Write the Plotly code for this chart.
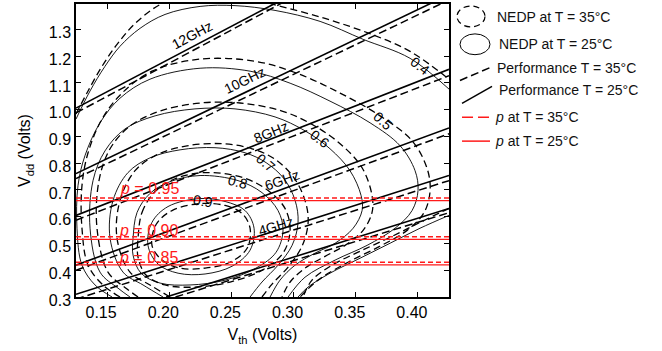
import plotly.graph_objects as go

FONT = "Liberation Sans, Arial, Helvetica, sans-serif"
RED = "#ff1a1a"

# ---------------- axes ----------------
vth_range = [0.125, 0.425]
vdd_range = [0.30, 1.395]
vth_ticks = [0.15, 0.20, 0.25, 0.30, 0.35, 0.40]
vdd_ticks = [0.3, 0.4, 0.5, 0.6, 0.7, 0.8, 0.9, 1.0, 1.1, 1.2, 1.3]

# ---------------- performance lines (iso-frequency) ----------------
perf_names = ["12GHz", "10GHz", "8GHz", "6GHz", "4GHz", "2GHz"]
perf25_vth = [[0.125, 0.285], [0.125, 0.425], [0.125, 0.425], [0.125, 0.425], [0.125, 0.425], [0.1975, 0.425]]
perf25_vdd = [[1.006, 1.397], [0.761, 1.430], [0.605, 1.151], [0.419, 0.932], [0.310, 0.754], [0.300, 0.631]]
perf35_vth = [[0.125, 0.290], [0.125, 0.425], [0.125, 0.425], [0.125, 0.425], [0.125, 0.425], [0.205, 0.425]]
perf35_vdd = [[0.988, 1.397], [0.743, 1.410], [0.587, 1.127], [0.400, 0.910], [0.292, 0.735], [0.300, 0.615]]
perf_label_vth = [0.2183, 0.2610, 0.2819, 0.2907, 0.2859]
perf_label_vdd = [1.281, 1.110, 0.917, 0.739, 0.564]
perf_label_angle = [-28, -26, -22, -20, -17]

# ---------------- NEDP contours, T = 25 C (solid) ----------------
n25_04_vth = [.125, .1363, .1483, .1604, .1765, .1966, .2248, .2529, .2851, .3213, .3559, .3937, .425,
              None, .425, .4017, .3776, .3535, .3293, .3116, .3036]
n25_04_vdd = [.965, 1.07, 1.162, 1.237, 1.304, 1.356, 1.386, 1.389, 1.371, 1.330, 1.263, 1.192, 1.077,
              None, .605, .557, .501, .445, .389, .337, .30]
n25_05_vth = [.154, .1403, .1298, .1258, .1266, .1322, .1443, .1604, .1845, .2248, .265, .2972, .3293, .3615,
              .3857, .3977, .4001, .3953, .3816, .3591, .3334, .3092, .2956]
n25_05_vdd = [.30, .345, .419, .557, .716, .828, .951, 1.043, 1.114, 1.155, 1.144, 1.099, 1.032, .951,
              .865, .772, .698, .623, .557, .493, .438, .374, .30]
n25_06_vth = [.1684, .1588, .1443, .1363, .1387, .1483, .1644, .1886, .2207, .2529, .2851, .3092, .3293, .3454,
              .3543, .3551, .3479, .3334, .3173, .3012, .2891, .2811]
n25_06_vdd = [.30, .333, .393, .557, .735, .846, .928, .977, 1.003, 1.003, .973, .921, .854, .772,
              .679, .623, .557, .501, .464, .419, .363, .30]
n25_07_vth = [.195, .1789, .1628, .1524, .1548, .1668, .1845, .2087, .2368, .261, .2779, .2923, .3012, .3036,
              .2988, .2875, .2746, .265]
n25_07_vdd = [.30, .345, .393, .519, .661, .765, .820, .850, .858, .839, .802, .742, .661, .579,
              .493, .419, .356, .30]
n25_08_vth = [.1709, .1741, .1845, .2006, .2248, .2553, .2746, .2875, .2915, .2859, .2698, .2449, .2167, .1926,
              .1773, .1709, .1709]
n25_08_vdd = [.519, .616, .687, .731, .754, .735, .690, .623, .549, .467, .408, .363, .345, .352,
              .389, .456, .519]
n25_09_vth = [.2248, .2449, .261, .2682, .265, .2505, .2288, .2071, .191, .1829, .1861, .199, .2248]
n25_09_vdd = [.668, .657, .623, .557, .475, .415, .386, .389, .423, .493, .579, .638, .668]

# ---------------- NEDP contours, T = 35 C (dashed) ----------------
n35_04_vth = [.125, .1347, .1459, .158, .1725, .1926, .2167, .2489, .2811, .3253, .3631, .3937, .425,
              None, .425, .4017, .3776, .3535, .3309, .3148, .3076]
n35_04_vdd = [.984, 1.07, 1.162, 1.244, 1.322, 1.393, 1.434, 1.441, 1.397, 1.341, 1.281, 1.218, 1.114,
              None, .631, .579, .523, .471, .419, .363, .30]
n35_05_vth = [.1604, .1467, .1347, .1298, .1298, .1347, .1459, .162, .1861, .2248, .269, .3028, .3374, .3696,
              .3953, .4074, .4098, .405, .3913, .3696, .3438, .3197, .3052]
n35_05_vdd = [.30, .345, .419, .557, .716, .839, .965, 1.062, 1.144, 1.189, 1.181, 1.136, 1.062, .977,
              .884, .780, .698, .616, .549, .490, .430, .363, .30]
n35_06_vth = [.1749, .1652, .1507, .1419, .1435, .1524, .1684, .1926, .2248, .2569, .2907, .3157, .3374, .3551,
              .3631, .3631, .3559, .3414, .3253, .3092, .2972, .2907]
n35_06_vdd = [.30, .333, .393, .557, .735, .854, .939, .995, 1.025, 1.025, .995, .943, .873, .783,
              .679, .616, .549, .493, .452, .408, .356, .30]
n35_07_vth = [.2006, .1845, .1684, .158, .1604, .1725, .1902, .2143, .2424, .2666, .2843, .2996, .3092, .3117,
              .3068, .2956, .2827, .2746]
n35_07_vdd = [.30, .345, .393, .519, .661, .772, .832, .865, .873, .854, .817, .750, .661, .579,
              .490, .412, .348, .30]
n35_08_vth = [.1749, .1781, .1886, .2046, .2288, .2593, .2795, .2931, .2972, .2915, .2746, .2489, .2207, .1966,
              .1813, .1749, .1749]
n35_08_vdd = [.519, .616, .694, .742, .765, .746, .698, .631, .549, .464, .400, .356, .337, .345,
              .382, .449, .519]
n35_09_vth = [.2248, .2449, .2586, .265, .2626, .2489, .2288, .2087, .1942, .1861, .1894, .2022, .2248]
n35_09_vdd = [.649, .642, .612, .557, .482, .430, .408, .408, .438, .493, .571, .623, .649]

level_text = ["0.4", "0.5", "0.6", "0.7", "0.8", "0.9"]
level_label_vth = [0.4017, 0.3720, 0.3213, 0.2779, 0.2553, 0.2272]
level_label_vdd = [1.162, 0.958, 0.891, 0.802, 0.731, 0.657]
level_label_angle = [38, 42, 38, 40, 15, 8]

# ---------------- yield (p) lines ----------------
p_text = ["0.95", "0.90", "0.85"]
p25_vdd = [0.660, 0.515, 0.420]
p35_vdd = [0.670, 0.525, 0.430]
p_label_vth = [0.1845, 0.1830, 0.1830]
p_label_vdd = [0.705, 0.549, 0.449]

fig = go.Figure()

def add_line(x, y, width, dash, color="black", shape="linear"):
    fig.add_trace(go.Scatter(x=x, y=y, mode="lines", showlegend=False, hoverinfo="skip",
                             line=dict(color=color, width=width, dash=dash, shape=shape, smoothing=1.0),
                             connectgaps=False))

nedp25 = [(n25_04_vth, n25_04_vdd), (n25_05_vth, n25_05_vdd), (n25_06_vth, n25_06_vdd),
          (n25_07_vth, n25_07_vdd), (n25_08_vth, n25_08_vdd), (n25_09_vth, n25_09_vdd)]
nedp35 = [(n35_04_vth, n35_04_vdd), (n35_05_vth, n35_05_vdd), (n35_06_vth, n35_06_vdd),
          (n35_07_vth, n35_07_vdd), (n35_08_vth, n35_08_vdd), (n35_09_vth, n35_09_vdd)]
for x, y in nedp25:
    add_line(x, y, 0.9, "solid", shape="spline")
for x, y in nedp35:
    add_line(x, y, 1.3, "7px,4px", shape="spline")

for x, y in zip(perf25_vth, perf25_vdd):
    add_line(x, y, 1.6, "solid")
for x, y in zip(perf35_vth, perf35_vdd):
    add_line(x, y, 1.5, "8px,4px")

for v in p25_vdd:
    add_line(vth_range, [v, v], 1.2, "solid", color=RED)
for v in p35_vdd:
    add_line(vth_range, [v, v], 1.5, "5px,3px", color=RED)

ann = []
for t, x, y, a in zip(perf_names, perf_label_vth, perf_label_vdd, perf_label_angle):
    ann.append(dict(x=x, y=y, text=t, textangle=a, showarrow=False,
                    font=dict(family=FONT, size=14, color="black")))
for t, x, y, a in zip(level_text, level_label_vth, level_label_vdd, level_label_angle):
    ann.append(dict(x=x, y=y, text=t, textangle=a, showarrow=False,
                    font=dict(family=FONT, size=14, color="black")))
for t, x, y in zip(p_text, p_label_vth, p_label_vdd):
    ann.append(dict(x=x, y=y, text="<i>p</i> = " + t, showarrow=False,
                    font=dict(family=FONT, size=16, color=RED)))

# ---------------- legend (drawn by hand at the right) ----------------
legend_text = ["NEDP at T = 35°C", "NEDP at T = 25°C", "Performance T = 35°C",
               "Performance T = 25°C", "<i>p</i> at T = 35°C", "<i>p</i> at T = 25°C"]
legend_x = [1.1233, 1.1287, 1.1233, 1.1287, 1.118, 1.118]
legend_y = [0.956, 0.864, 0.783, 0.705, 0.6136, 0.532]
for t, x, y in zip(legend_text, legend_x, legend_y):
    ann.append(dict(x=x, y=y, xref="paper", yref="paper", text=t, showarrow=False,
                    xanchor="left", yanchor="middle",
                    font=dict(family=FONT, size=14, color="#111")))

shapes = [
    dict(type="circle", xref="paper", yref="paper", x0=1.0214, x1=1.0965, y0=0.922, y1=0.9932,
         line=dict(color="black", width=1.2, dash="6px,4px")),
    dict(type="circle", xref="paper", yref="paper", x0=1.0295, x1=1.1099, y0=0.827, y1=0.898,
         line=dict(color="black", width=1.0)),
    dict(type="line", xref="paper", yref="paper", x0=1.0295, x1=1.1099, y0=0.739, y1=0.783,
         line=dict(color="black", width=1.5, dash="8px,4px")),
    dict(type="line", xref="paper", yref="paper", x0=1.0349, x1=1.1153, y0=0.661, y1=0.719,
         line=dict(color="black", width=1.5)),
    dict(type="line", xref="paper", yref="paper", x0=1.0349, x1=1.11, y0=0.6136, y1=0.6136,
         line=dict(color=RED, width=1.5, dash="11px,5px")),
    dict(type="line", xref="paper", yref="paper", x0=1.0349, x1=1.11, y0=0.532, y1=0.532,
         line=dict(color=RED, width=1.5)),
]

axis_common = dict(showgrid=False, zeroline=False, showline=True, linecolor="black", linewidth=1.5,
                   mirror="allticks", ticks="inside", ticklen=5, tickwidth=1, tickcolor="black",
                   tickfont=dict(family=FONT, size=16, color="black"))

fig.update_layout(
    width=662, height=351,
    margin=dict(l=76, r=213, t=2, b=54),
    paper_bgcolor="white", plot_bgcolor="white",
    xaxis=dict(range=vth_range, tickvals=vth_ticks, tickformat=".2f", ticklabelshift=-6,
               title=dict(text="V<sub>th</sub> (Volts)", font=dict(family=FONT, size=16, color="black"),
                          standoff=9),
               **axis_common),
    yaxis=dict(range=vdd_range, tickvals=vdd_ticks, tickformat=".1f", ticklabelshift=3,
               title=dict(text="V<sub>dd</sub> (Volts)", font=dict(family=FONT, size=16, color="black"),
                          standoff=14),
               **axis_common),
    annotations=ann,
    shapes=shapes,
)

fig.write_html("out.html", config={"displayModeBar": False},
               post_script="document.body.style.margin='0';")
